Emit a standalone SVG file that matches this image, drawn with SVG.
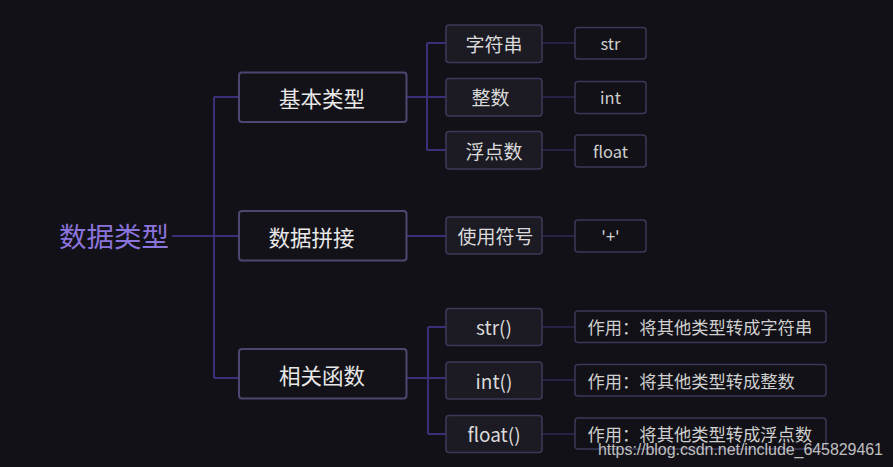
<svg xmlns="http://www.w3.org/2000/svg" width="893" height="467" viewBox="0 0 893 467">
<style>
text{font-family:"Noto Sans CJK SC","Noto Sans",sans-serif;dominant-baseline:central}
.l1 rect{fill:#131218;stroke:#4e4670;stroke-width:2}
.l1 text{fill:#e8e8e8;font-size:21.5px;text-anchor:middle}
.l2 rect{fill:#1c1b23;stroke:#3d3859;stroke-width:1.6}
.l2 text{fill:#dadada;font-size:19px;text-anchor:middle}
.l3 rect{fill:#121117;stroke:#3d3859;stroke-width:1.5}
.l3 text{fill:#cfcfcf;font-size:16.5px;text-anchor:middle}
.l3 text.d{text-anchor:start;font-size:17.3px}
.main{fill:none;stroke:#3a2f78;stroke-width:2}
.sub{fill:none;stroke:#2d2954;stroke-width:1.5}
</style>
<rect width="893" height="467" fill="#121117"/>
<g id="connectors">
<path class="main" d="M172 236H239M214 97V378M214 97H239M214 378H239"/>
<path class="main" d="M406 97H446M427 43V150M427 43H446M427 150H446"/>
<path class="main" d="M406 236H446"/>
<path class="main" d="M406 378H446M428 327V434M428 327H446M428 434H446"/>
<path class="sub" d="M542 43H575M542 97H575M542 150H575M542 236H575M542 327H575M542 380H575M542 434H575"/>
</g>
<g id="root"><text x="114" y="235" style="font-size:27.5px;fill:#8b74dc;text-anchor:middle">数据类型</text></g>
<g id="n-basic" class="l1"><rect x="239" y="72.5" width="167.5" height="49.5" rx="3"/><text x="322" y="97">基本类型</text></g>
<g id="n-concat" class="l1"><rect x="239" y="211" width="167.5" height="49.5" rx="3"/><text x="311.5" y="236">数据拼接</text></g>
<g id="n-func" class="l1"><rect x="239" y="349" width="167.5" height="49.5" rx="3"/><text x="322" y="374">相关函数</text></g>
<g id="n-str-cn" class="l2"><rect x="446" y="25" width="96" height="37.5" rx="3"/><text x="494" y="43">字符串</text></g>
<g id="n-int-cn" class="l2"><rect x="446" y="78.5" width="96" height="37.5" rx="3"/><text x="490.5" y="96.5">整数</text></g>
<g id="n-float-cn" class="l2"><rect x="446" y="131.5" width="96" height="37.5" rx="3"/><text x="494" y="150">浮点数</text></g>
<g id="n-sym" class="l2"><rect x="446" y="217" width="96" height="37" rx="3"/><text x="495.5" y="235.5">使用符号</text></g>
<g id="n-strf" class="l2"><rect x="446" y="308.5" width="96" height="37" rx="3"/><text x="494" y="326.5">str()</text></g>
<g id="n-intf" class="l2"><rect x="446" y="362" width="96" height="37" rx="3"/><text x="494" y="380">int()</text></g>
<g id="n-floatf" class="l2"><rect x="446" y="415.5" width="96" height="37" rx="3"/><text x="494" y="433.5">float()</text></g>
<g id="n-str" class="l3"><rect x="575" y="27.5" width="71" height="31.5" rx="3"/><text x="610.5" y="43">str</text></g>
<g id="n-int" class="l3"><rect x="575" y="81.5" width="71" height="32" rx="3"/><text x="610.5" y="97">int</text></g>
<g id="n-float" class="l3"><rect x="575" y="135" width="71" height="32" rx="3"/><text x="610.5" y="150.5">float</text></g>
<g id="n-plus" class="l3"><rect x="575" y="220" width="71" height="32" rx="3"/><text x="610.5" y="236">'+'</text></g>
<g id="n-d1" class="l3"><rect x="575" y="311" width="251" height="31.5" rx="3"/><text class="d" x="587.5" y="326.5">作用：将其他类型转成字符串</text></g>
<g id="n-d2" class="l3"><rect x="575" y="364.5" width="251" height="31.5" rx="3"/><text class="d" x="587.5" y="380">作用：将其他类型转成整数</text></g>
<g id="n-d3" class="l3"><rect x="575" y="418" width="251" height="31" rx="3"/><text class="d" x="587.5" y="433">作用：将其他类型转成浮点数</text></g>
<text x="598" y="455" style="font-family:'Liberation Sans',Arial,sans-serif;font-size:16px;fill:#e0e0e0;fill-opacity:0.85;dominant-baseline:auto" textLength="285">https://blog.csdn.net/include_645829461</text>
</svg>
